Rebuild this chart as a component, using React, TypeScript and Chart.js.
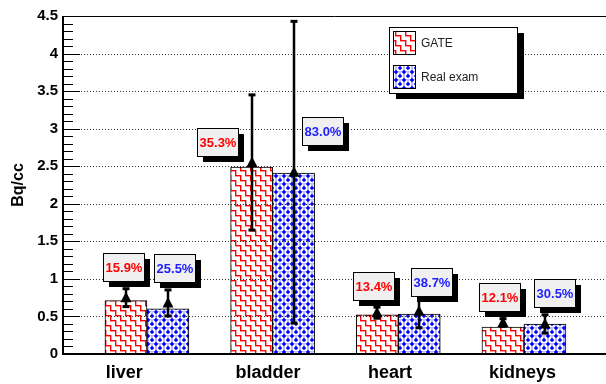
import React, { useEffect, useRef } from 'react';
import { Chart, registerables } from 'chart.js';

Chart.register(...registerables);

// ---- data ----
const categories = ['liver', 'bladder', 'heart', 'kidneys'];
const seriesNames = ['GATE', 'Real exam'];
const gateValues = [0.71, 2.49, 0.52, 0.36];
const realValues = [0.6, 2.41, 0.53, 0.4];
const gateMarkers = [0.75, 2.55, 0.55, 0.42];
const realMarkers = [0.68, 2.42, 0.57, 0.4];
const gatePercent = [15.9, 35.3, 13.4, 12.1];
const realPercent = [25.5, 83.0, 38.7, 30.5];
const yTickValues = [0, 0.5, 1, 1.5, 2, 2.5, 3, 3.5, 4, 4.5];

// ---- annotation placement (data coordinates) ----
const gateBoxAt = [[-0.19, 1.158], [0.561, 2.823], [1.806, 0.905], [2.809, 0.759]];
const realBoxAt = [[0.223, 1.145], [1.4, 2.969], [2.264, 0.952], [3.247, 0.812]];
const labelAt = [-0.18, 0.963, 1.934, 2.988];

const FONT = '"Liberation Sans", Arial, Helvetica, sans-serif';

function makeGatePattern(ctx: CanvasRenderingContext2D) {
  const n = 10;
  const c = document.createElement('canvas');
  c.width = n;
  c.height = n;
  const g = c.getContext('2d')!;
  g.fillStyle = '#ffffff';
  g.fillRect(0, 0, n, n);
  // soft edge to mimic anti-aliased 1.5px lines
  g.fillStyle = '#ff9a9a';
  g.fillRect(0, 1, 6, 1);
  g.fillRect(6, 0, 1, 6);
  g.fillRect(5, 6, 5, 1);
  g.fillRect(1, 5, 1, 5);
  g.fillStyle = '#ff0000';
  g.fillRect(0, 0, 6, 1);
  g.fillRect(5, 0, 1, 6);
  g.fillRect(5, 5, 5, 1);
  g.fillRect(0, 5, 1, 5);
  return ctx.createPattern(c, 'repeat')!;
}

function makeRealPattern(ctx: CanvasRenderingContext2D) {
  const n = 8;
  const c = document.createElement('canvas');
  c.width = n;
  c.height = n;
  const g = c.getContext('2d')!;
  g.fillStyle = '#0000ff';
  g.fillRect(0, 0, n, n);
  g.strokeStyle = '#ffffff';
  g.lineWidth = 2.4;
  for (const o of [-n, 0, n]) {
    g.beginPath();
    g.moveTo(o - 1, -1);
    g.lineTo(o + n + 1, n + 1);
    g.stroke();
    g.beginPath();
    g.moveTo(o - 1, n + 1);
    g.lineTo(o + n + 1, -1);
    g.stroke();
  }
  // weave breaks
  g.fillStyle = '#0000ff';
  g.fillRect(3.5, 2.5, 1, 1);
  g.fillRect(3.5, 4.5, 1, 1);
  g.fillRect(-0.5, 0.5, 1, 1);
  g.fillRect(7.5, 0.5, 1, 1);
  g.fillRect(0.5, 7.5, 1, 1);
  g.fillRect(6.5, 7.5, 1, 1);
  return ctx.createPattern(c, 'repeat')!;
}

export default function App() {
  const ref = useRef<HTMLCanvasElement | null>(null);

  useEffect(() => {
    document.body.style.margin = '0';
    const canvas = ref.current!;
    const ctx0 = canvas.getContext('2d')!;
    const gatePat = makeGatePattern(ctx0);
    const realPat = makeRealPattern(ctx0);

    const decor = {
      id: 'decor',
      afterDatasetsDraw(chart: any) {
        const { ctx, chartArea: a, scales } = chart;
        const x = scales.x;
        const y = scales.y;
        ctx.save();

        // dotted grid lines (drawn over the bars)
        ctx.strokeStyle = '#333';
        ctx.lineWidth = 1;
        ctx.setLineDash([1, 2]);
        for (const v of yTickValues) {
          if (v <= 0 || v >= 4.5) continue;
          const py = Math.round(y.getPixelForValue(v)) + 0.5;
          ctx.beginPath();
          ctx.moveTo(a.left, py);
          ctx.lineTo(a.right, py);
          ctx.stroke();
        }
        ctx.setLineDash([]);

        // inner tick marks
        ctx.strokeStyle = '#000';
        ctx.lineWidth = 1;
        for (let k = 0; k <= 45; k++) {
          const v = k / 10;
          const py = Math.round(y.getPixelForValue(v)) + 0.5;
          const len = k % 5 === 0 ? 17 : 10;
          ctx.beginPath();
          ctx.moveTo(a.left, py);
          ctx.lineTo(a.left + len, py);
          ctx.stroke();
        }

        // frame / axes
        ctx.lineWidth = 1;
        ctx.beginPath();
        ctx.moveTo(a.left, a.top + 0.5);
        ctx.lineTo(a.right, a.top + 0.5);
        ctx.stroke();
        ctx.lineWidth = 2;
        ctx.beginPath();
        ctx.moveTo(a.left, a.top);
        ctx.lineTo(a.left, a.bottom + 1);
        ctx.moveTo(a.left - 1, a.bottom);
        ctx.lineTo(a.right, a.bottom);
        ctx.stroke();

        // error bars and markers
        const markerSets = [gateMarkers, realMarkers];
        const pctSets = [gatePercent, realPercent];
        ctx.fillStyle = '#000';
        ctx.strokeStyle = '#000';
        for (let d = 0; d < 2; d++) {
          const meta = chart.getDatasetMeta(d);
          meta.data.forEach((bar: any, i: number) => {
            const bx = Math.round(bar.x);
            const m = markerSets[d][i];
            const e = (pctSets[d][i] / 100) * m;
            const yTop = y.getPixelForValue(m + e);
            const yBot = y.getPixelForValue(m - e);
            const ym = y.getPixelForValue(m);
            ctx.lineWidth = 2.5;
            ctx.beginPath();
            ctx.moveTo(bx, yTop);
            ctx.lineTo(bx, yBot);
            ctx.stroke();
            ctx.fillRect(bx - 3.5, yTop - 1.5, 7, 3);
            ctx.fillRect(bx - 3.5, yBot - 1.5, 7, 3);
            ctx.beginPath();
            ctx.moveTo(bx, ym - 6);
            ctx.lineTo(bx + 5.5, ym + 4.5);
            ctx.lineTo(bx - 5.5, ym + 4.5);
            ctx.closePath();
            ctx.fill();
          });
        }

        // percentage boxes
        const boxSets = [gateBoxAt, realBoxAt];
        const colors = ['#ff0000', '#2020ff'];
        ctx.font = `bold 13px ${FONT}`;
        ctx.textAlign = 'center';
        ctx.textBaseline = 'middle';
        for (let d = 0; d < 2; d++) {
          boxSets[d].forEach(([bxv, byv], i) => {
            const txt = pctSets[d][i].toFixed(1) + '%';
            const cx = x.getPixelForValue(bxv);
            const cy = y.getPixelForValue(byv);
            const w = Math.round(ctx.measureText(txt).width + 4);
            const h = 28;
            const l = Math.round(cx - w / 2);
            const t = Math.round(cy - h / 2);
            ctx.fillStyle = '#000';
            ctx.fillRect(l + 6, t + 6, w, h);
            ctx.fillStyle = '#f0f0f0';
            ctx.fillRect(l, t, w, h);
            ctx.lineWidth = 1;
            ctx.strokeStyle = '#000';
            ctx.strokeRect(l + 0.5, t + 0.5, w, h);
            ctx.fillStyle = colors[d];
            ctx.fillText(txt, l + w / 2 + 0.5, t + h / 2 + 1);
          });
        }

        // legend
        const lx = a.left + 326;
        const ly = a.top + 11;
        const lw = 128;
        const lh = 66;
        ctx.fillStyle = '#000';
        ctx.fillRect(lx + 7, ly + 6, lw, lh);
        ctx.fillStyle = '#fff';
        ctx.fillRect(lx, ly, lw, lh);
        ctx.strokeStyle = '#000';
        ctx.lineWidth = 1;
        ctx.strokeRect(lx + 0.5, ly + 0.5, lw, lh);
        const pats = [gatePat, realPat];
        ctx.font = `12px ${FONT}`;
        ctx.textAlign = 'left';
        ctx.textBaseline = 'middle';
        for (let d = 0; d < 2; d++) {
          const sy = ly + 4 + d * 34;
          ctx.fillStyle = pats[d];
          ctx.fillRect(lx + 4, sy, 22, 23);
          ctx.strokeStyle = '#000';
          ctx.strokeRect(lx + 4.5, sy + 0.5, 22, 23);
          ctx.fillStyle = '#222';
          ctx.fillText(seriesNames[d], lx + 32, sy + 13);
        }

        ctx.restore();
      },
    };

    const chart = new Chart(canvas, {
      type: 'bar',
      data: {
        datasets: [
          {
            label: seriesNames[0],
            data: categories.map((_, i) => ({ x: i, y: gateValues[i] })),
            backgroundColor: gatePat,
            borderColor: '#000',
            borderWidth: 1,
            barThickness: 42,
          },
          {
            label: seriesNames[1],
            data: categories.map((_, i) => ({ x: i, y: realValues[i] })),
            backgroundColor: realPat,
            borderColor: '#000',
            borderWidth: 1,
            barThickness: 42,
          },
        ],
      },
      options: {
        animation: false,
        responsive: false,
        devicePixelRatio: 1,
        layout: { padding: { top: 16, right: 0, left: 0, bottom: 0 } },
        plugins: { legend: { display: false }, tooltip: { enabled: false } },
        scales: {
          x: {
            type: 'linear',
            min: -0.668,
            max: 3.653,
            offset: false,
            grid: { display: false, drawTicks: false },
            border: { display: false },
            afterBuildTicks: (s: any) => {
              s.ticks = labelAt.map((v) => ({ value: v }));
            },
            ticks: {
              callback: (_v: any, i: number) => categories[i],
              font: { family: FONT, size: 18, weight: 'bold' },
              color: '#000',
              maxRotation: 0,
              minRotation: 0,
              autoSkip: false,
              padding: 8,
            },
            afterFit: (s: any) => {
              s.height = 30;
            },
          },
          y: {
            min: 0,
            max: 4.5,
            grid: { display: false, drawTicks: false },
            border: { display: false },
            afterBuildTicks: (s: any) => {
              s.ticks = yTickValues.map((v) => ({ value: v }));
            },
            ticks: {
              callback: (v: any) => String(v),
              font: { family: FONT, size: 15, weight: 'bold' },
              color: '#000',
              padding: 5,
            },
            title: {
              display: true,
              text: 'Bq/cc',
              font: { family: FONT, size: 16, weight: 'bold' },
              color: '#000',
              padding: { top: 9, bottom: 0 },
            },
            afterFit: (s: any) => {
              s.width = 63;
            },
          },
        },
      } as any,
      plugins: [decor],
    });

    return () => chart.destroy();
  }, []);

  return (
    <div style={{ width: 606, height: 384, background: '#fff' }}>
      <canvas ref={ref} width={606} height={384} style={{ width: 606, height: 384, display: 'block' }} />
    </div>
  );
}
